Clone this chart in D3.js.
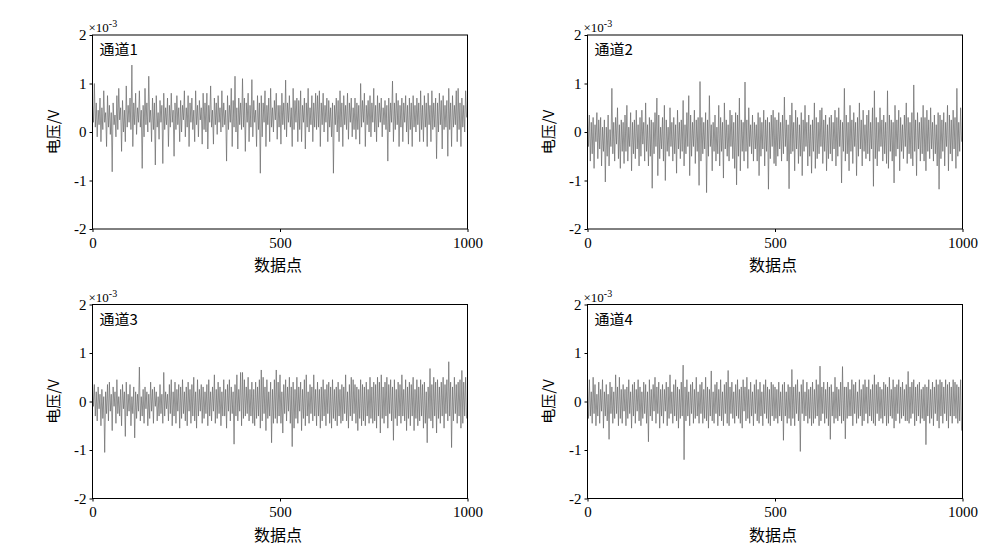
<!DOCTYPE html>
<html>
<head>
<meta charset="utf-8">
<script src="https://cdn.jsdelivr.net/npm/d3@7"></script>
<style>
  html, body { margin: 0; padding: 0; background: #fff; }
  svg { display: block; }
  text { font-family: "Liberation Serif", "Times New Roman", "DejaVu Serif", serif; fill: #000; }
  .cjk { font-family: "Noto Sans CJK SC", "Liberation Serif", sans-serif; }
</style>
</head>
<body>
<svg id="chart" width="1000" height="549"></svg>
<script>
// ---- data (values in units of 1e-3 V, read every 2.5 data points) ----
const channelNames = ["通道1", "通道2", "通道3", "通道4"];
const yTicks = [-2, -1, 0, 1, 2];
const xTicks = [0, 500, 1000];
const sampleStep = 2.5;

const channel1 = [
0.55,0.20,1.00,0.10,0.60,-0.10,0.45,0.15,0.70,-0.20,0.50,0.05,0.85,0.20,0.40,-0.30,0.75,0.10,0.55,-0.05,
0.40,-0.82,0.60,0.15,0.35,-0.10,0.75,0.05,0.90,0.25,0.50,-0.40,0.65,0.00,0.45,-0.20,0.95,0.10,0.55,0.20,
0.70,0.05,1.38,-0.30,0.60,0.15,0.80,-0.05,0.50,0.20,0.85,0.10,0.45,-0.75,0.55,-0.10,0.90,0.15,0.60,0.00,
1.15,0.20,0.45,-0.20,0.70,0.05,0.60,-0.68,0.75,0.10,0.40,-0.15,0.65,0.20,0.55,-0.65,0.80,0.05,0.50,0.15,
0.70,-0.30,0.55,0.10,0.80,0.20,0.45,-0.50,0.60,0.05,0.75,0.15,0.50,-0.20,0.65,0.00,0.55,0.25,0.85,-0.10,
0.50,0.10,0.75,-0.30,0.60,0.20,0.70,0.05,0.45,-0.20,0.85,0.15,0.55,-0.10,0.65,0.25,0.50,-0.25,0.80,0.05,
0.60,0.00,0.80,-0.35,0.55,0.20,0.95,0.10,0.45,-0.25,0.70,0.15,0.60,-0.05,0.75,0.20,0.50,0.00,0.85,0.10,
0.60,0.15,0.45,-0.60,0.75,0.05,0.55,0.20,0.90,-0.30,0.65,0.10,1.15,0.00,0.50,-0.35,0.70,0.15,0.60,0.05,
1.10,0.10,0.70,-0.40,0.60,0.20,0.80,-0.20,0.55,0.10,1.08,-0.10,0.65,0.20,0.45,-0.30,0.75,0.05,0.60,-0.85,
0.75,-0.10,0.60,0.20,0.85,-0.30,0.55,0.15,0.70,-0.20,0.90,0.10,0.50,0.00,0.65,0.25,0.80,-0.15,0.55,0.10,
0.55,-0.25,0.80,0.15,0.60,0.05,1.07,-0.10,0.60,0.20,0.75,0.10,0.50,-0.30,0.90,0.05,0.65,0.20,0.70,-0.20,
0.65,0.05,0.85,-0.20,0.55,0.20,0.70,-0.35,0.60,0.10,0.90,0.00,0.50,0.15,0.75,-0.20,0.60,0.10,0.80,0.05,
0.75,0.10,0.85,-0.30,0.60,0.15,0.80,0.00,0.55,0.20,0.70,-0.20,0.65,0.10,0.50,-0.10,0.60,-0.85,0.55,0.15,
0.70,0.00,0.65,-0.20,0.85,0.10,0.60,-0.30,0.75,0.15,0.55,0.05,0.80,-0.15,0.60,0.20,0.70,-0.10,0.50,0.05,
0.70,-0.15,0.60,0.05,0.55,-0.25,1.00,0.10,0.65,0.20,0.80,-0.30,0.55,0.15,0.65,0.00,0.75,-0.10,0.60,0.20,
0.90,0.00,0.55,-0.20,0.75,0.10,0.60,0.20,0.70,-0.10,0.50,0.15,0.65,0.05,0.55,-0.60,0.70,0.00,0.60,0.20,
1.05,-0.20,0.60,0.05,0.80,0.15,0.65,-0.30,0.55,0.10,0.70,-0.20,0.60,0.20,0.75,0.00,0.55,-0.25,0.70,0.05,
0.60,-0.30,0.75,0.10,0.55,0.00,0.70,0.15,0.60,-0.20,0.85,0.05,0.55,-0.20,0.75,0.10,0.60,-0.30,0.80,0.15,
0.55,-0.20,0.85,0.05,0.60,0.10,0.70,-0.55,0.60,0.00,0.80,0.15,0.65,-0.35,0.75,0.05,0.55,0.10,0.65,-0.50,
0.90,0.05,0.60,-0.30,0.75,0.10,0.55,0.15,0.85,-0.20,0.90,0.05,0.60,-0.30,0.70,0.10,0.55,0.00,0.85,0.30];

const channel2 = [
0.45,-0.30,0.35,-0.60,0.20,-0.45,0.30,-0.75,0.15,-0.20,0.40,-0.55,0.25,-0.35,0.30,-0.70,0.10,-0.40,0.25,-1.03,
0.10,-0.50,0.35,-0.70,0.05,-0.30,0.90,-0.45,0.20,-0.60,0.30,-0.25,0.50,-0.55,0.15,-0.75,0.25,-0.40,0.20,-0.65,
0.35,-0.40,0.55,-0.60,0.10,-0.30,0.40,-0.80,0.20,-0.45,0.25,-0.55,0.45,-0.35,0.15,-0.70,0.30,-0.50,0.45,-0.25,
0.20,-0.60,0.60,-0.40,0.15,-0.70,0.30,-0.50,0.25,-1.16,0.20,-0.45,0.40,-0.30,0.70,-0.90,0.35,-0.55,0.10,-0.35,
0.30,-0.60,0.55,-1.00,0.25,-0.40,0.10,-0.50,0.50,-0.30,0.20,-0.60,0.30,-0.45,0.15,-0.85,0.45,-0.35,0.20,-0.55,
0.25,-0.40,0.65,-0.70,0.15,-0.45,0.40,-0.30,0.75,-0.90,0.35,-0.50,0.20,-0.30,0.45,-0.65,0.25,-0.40,0.30,-1.10,
1.04,-0.60,0.30,-0.45,0.20,-0.35,0.40,-1.25,0.25,-0.50,0.75,-0.30,0.15,-0.80,0.20,-0.40,0.35,-0.60,0.10,-0.45,
0.55,-0.70,0.30,-0.40,0.20,-0.95,0.60,-0.35,0.25,-0.50,0.15,-0.60,0.45,-0.30,0.35,-0.55,0.20,-0.75,0.40,-1.09,
0.35,-0.50,0.70,-0.80,0.25,-0.40,0.20,-0.60,1.03,-0.40,0.25,-0.75,0.50,-0.30,0.15,-0.45,0.35,-0.60,0.20,-0.35,
0.15,-0.60,0.40,-0.90,0.30,-0.50,0.20,-0.35,0.45,-0.70,0.25,-0.40,0.30,-1.18,0.20,-0.55,0.35,-0.30,0.45,-0.65,
0.30,-0.70,0.25,-0.50,0.40,-0.35,0.20,-0.60,0.35,-0.45,0.72,-0.30,0.25,-0.60,0.15,-1.17,0.35,-0.45,0.60,-0.40,
0.20,-0.80,0.45,-0.35,0.30,-0.65,0.15,-0.50,0.40,-0.90,0.25,-0.40,0.55,-0.30,0.20,-0.70,0.35,-0.50,0.15,-0.85,
0.25,-0.40,0.60,-0.75,0.30,-0.55,0.20,-0.45,0.45,-0.30,0.50,-0.65,0.25,-0.40,0.35,-0.80,0.15,-0.55,0.30,-0.45,
0.35,-0.60,0.20,-0.35,0.45,-0.70,0.30,-0.50,0.50,-0.30,0.25,-1.05,0.20,-0.40,0.90,-0.60,0.35,-0.45,0.20,-0.80,
0.55,-0.40,0.25,-0.65,0.40,-0.30,0.20,-0.90,0.30,-0.50,0.60,-0.35,0.25,-0.70,0.45,-0.40,0.15,-0.55,0.35,-0.45,
0.45,-0.60,0.20,-0.35,0.50,-1.12,0.85,-0.55,0.30,-0.70,0.20,-0.40,0.50,-0.30,0.25,-0.60,0.35,-0.45,0.20,-0.65,
0.85,-0.75,0.35,-0.40,0.25,-0.60,0.20,-1.05,0.55,-0.50,0.25,-0.35,0.45,-0.80,0.30,-0.40,0.15,-0.55,0.35,-0.30,
0.60,-0.65,0.30,-0.45,0.20,-0.55,0.40,-0.70,0.97,-0.40,0.25,-0.90,0.40,-0.35,0.20,-0.60,0.30,-0.45,0.55,-0.60,
0.30,-0.80,0.45,-0.40,0.25,-0.55,0.50,-0.35,0.20,-0.60,0.35,-0.45,0.15,-0.70,0.40,-1.18,0.35,-0.55,0.25,-0.40,
0.40,-0.70,0.20,-0.30,0.55,-0.80,0.35,-0.45,0.25,-0.60,0.45,-0.35,0.30,-0.75,0.90,-0.50,0.20,-0.40,0.50,-0.20];

const channel3 = [
0.40,-0.10,0.35,-0.30,0.20,-0.40,0.30,-0.15,0.15,-0.50,0.25,-0.35,0.10,-1.05,0.20,-0.25,0.35,-0.40,0.40,-0.20,
0.15,-0.60,0.30,-0.10,0.20,-0.45,0.45,-0.25,0.10,-0.30,0.25,-0.50,0.35,-0.15,0.20,-0.72,0.40,-0.30,0.15,-0.20,
0.35,-0.50,0.10,-0.25,0.30,-0.75,0.20,-0.35,0.15,-0.20,0.71,-0.40,0.10,-0.30,0.25,-0.45,0.30,-0.15,0.20,-0.50,
0.15,-0.35,0.40,-0.20,0.25,-0.45,0.30,-0.10,0.20,-0.40,0.10,-0.30,0.35,-0.25,0.15,-0.45,0.60,-0.30,0.20,-0.15,
0.15,-0.40,0.35,-0.25,0.45,-0.50,0.20,-0.30,0.40,-0.45,0.25,-0.20,0.35,-0.55,0.30,-0.35,0.45,-0.25,0.20,-0.40,
0.30,-0.50,0.40,-0.20,0.25,-0.45,0.35,-0.30,0.50,-0.40,0.20,-0.55,0.45,-0.30,0.25,-0.20,0.35,-0.45,0.30,-0.35,
0.20,-0.25,0.35,-0.50,0.45,-0.30,0.20,-0.40,0.30,-0.20,0.55,-0.45,0.25,-0.35,0.40,-0.25,0.30,-0.50,0.20,-0.30,
0.45,-0.30,0.25,-0.55,0.35,-0.20,0.45,-0.40,0.30,-0.25,0.20,-0.88,0.35,-0.30,0.55,-0.40,0.25,-0.20,0.60,-0.50,
0.60,-0.35,0.45,-0.30,0.30,-0.25,0.50,-0.40,0.25,-0.30,0.40,-0.45,0.25,-0.50,0.40,-0.35,0.30,-0.30,0.45,-0.55,
0.65,-0.40,0.50,-0.25,0.30,-0.60,0.45,-0.35,0.20,-0.30,0.40,-0.85,0.25,-0.45,0.45,-0.35,0.65,-0.45,0.40,-0.30,
0.55,-0.45,0.20,-0.65,0.35,-0.25,0.45,-0.40,0.30,-0.20,0.50,-0.45,0.30,-0.93,0.40,-0.55,0.25,-0.35,0.50,-0.45,
0.30,-0.20,0.40,-0.60,0.25,-0.35,0.45,-0.50,0.55,-0.30,0.20,-0.45,0.35,-0.25,0.30,-0.40,0.55,-0.30,0.25,-0.50,
0.40,-0.30,0.25,-0.55,0.30,-0.40,0.45,-0.30,0.25,-0.50,0.35,-0.25,0.40,-0.45,0.30,-0.55,0.45,-0.35,0.25,-0.40,
0.30,-0.50,0.40,-0.30,0.25,-0.45,0.35,-0.40,0.30,-0.25,0.55,-0.40,0.20,-0.55,0.35,-0.30,0.50,-0.40,0.45,-0.25,
0.35,-0.45,0.30,-0.60,0.25,-0.35,0.45,-0.50,0.35,-0.40,0.30,-0.50,0.40,-0.30,0.25,-0.45,0.50,-0.35,0.30,-0.45,
0.40,-0.40,0.35,-0.55,0.50,-0.30,0.40,-0.65,0.55,-0.35,0.30,-0.45,0.40,-0.30,0.50,-0.55,0.35,-0.25,0.45,-0.40,
0.30,-0.80,0.45,-0.35,0.25,-0.50,0.40,-0.30,0.35,-0.45,0.55,-0.30,0.25,-0.40,0.45,-0.60,0.30,-0.35,0.40,-0.50,
0.35,-0.30,0.50,-0.60,0.25,-0.35,0.45,-0.50,0.30,-0.40,0.45,-0.30,0.35,-0.55,0.40,-0.45,0.20,-0.85,0.30,-0.35,
0.68,-0.40,0.35,-0.55,0.50,-0.30,0.40,-0.65,0.45,-0.35,0.30,-0.45,0.40,-0.30,0.50,-0.55,0.35,-0.25,0.45,-0.40,
0.82,-0.30,0.40,-0.95,0.30,-0.40,0.50,-0.25,0.35,-0.45,0.40,-0.30,0.45,-0.55,0.64,-0.45,0.40,-0.30,0.50,-0.35];

const channel4 = [
0.30,-0.35,0.45,-0.30,0.20,-0.45,0.50,-0.25,0.35,-0.50,0.15,-0.30,0.40,-0.45,0.25,-0.20,0.45,-0.55,0.20,-0.30,
0.35,-0.40,0.15,-0.78,0.40,-0.25,0.30,-0.45,0.20,-0.35,0.55,-0.25,0.30,-0.50,0.50,-0.35,0.25,-0.45,0.35,-0.20,
0.25,-0.50,0.30,-0.35,0.45,-0.25,0.20,-0.55,0.35,-0.30,0.40,-0.45,0.25,-0.20,0.45,-0.40,0.30,-0.50,0.20,-0.35,
0.40,-0.25,0.35,-0.45,0.20,-0.83,0.45,-0.30,0.25,-0.40,0.35,-0.20,0.50,-0.45,0.30,-0.25,0.40,-0.55,0.25,-0.30,
0.35,-0.45,0.25,-0.20,0.40,-0.50,0.30,-0.35,0.55,-0.25,0.20,-0.45,0.35,-0.30,0.45,-0.40,0.30,-0.55,0.25,-0.35,
0.40,-0.30,0.75,-1.20,0.30,-0.40,0.45,-0.30,0.20,-0.50,0.35,-0.25,0.40,-0.45,0.25,-0.35,0.50,-0.30,0.20,-0.45,
0.35,-0.25,0.40,-0.45,0.25,-0.35,0.50,-0.40,0.30,-0.55,0.25,-0.30,0.63,-0.40,0.20,-0.45,0.35,-0.25,0.40,-0.50,
0.25,-0.30,0.45,-0.40,0.20,-0.50,0.35,-0.25,0.40,-0.45,0.64,-0.50,0.30,-0.25,0.40,-0.35,0.20,-0.45,0.35,-0.30,
0.45,-0.35,0.25,-0.45,0.30,-0.55,0.45,-0.20,0.30,-0.40,0.50,-0.35,0.25,-0.45,0.40,-0.30,0.20,-0.50,0.35,-0.25,
0.45,-0.40,0.25,-0.45,0.40,-0.30,0.20,-0.50,0.35,-0.25,0.45,-0.35,0.30,-0.45,0.25,-0.50,0.40,-0.30,0.35,-0.40,
0.30,-0.35,0.25,-0.45,0.40,-0.30,0.20,-0.40,0.35,-0.80,0.40,-0.30,0.20,-0.45,0.35,-0.35,0.30,-0.50,0.66,-0.35,
0.30,-0.50,0.35,-0.25,0.45,-0.40,0.20,-1.03,0.35,-0.25,0.45,-0.40,0.20,-0.30,0.40,-0.45,0.25,-0.35,0.30,-0.50,
0.40,-0.45,0.25,-0.35,0.45,-0.30,0.35,-0.50,0.73,-0.40,0.30,-0.25,0.40,-0.45,0.25,-0.35,0.40,-0.50,0.30,-0.78,
0.35,-0.30,0.20,-0.45,0.50,-0.35,0.30,-0.40,0.25,-0.30,0.40,-0.45,0.72,-0.40,0.30,-0.77,0.30,-0.35,0.40,-0.30,
0.25,-0.30,0.45,-0.50,0.35,-0.25,0.40,-0.45,0.20,-0.35,0.45,-0.30,0.25,-0.50,0.35,-0.40,0.45,-0.25,0.30,-0.45,
0.45,-0.30,0.25,-0.40,0.35,-0.45,0.55,-0.50,0.35,-0.25,0.40,-0.40,0.30,-0.35,0.25,-0.45,0.40,-0.30,0.35,-0.50,
0.30,-0.45,0.50,-0.30,0.25,-0.35,0.45,-0.55,0.30,-0.40,0.35,-0.25,0.45,-0.45,0.30,-0.35,0.40,-0.30,0.25,-0.40,
0.35,-0.40,0.62,-0.45,0.30,-0.35,0.40,-0.25,0.45,-0.50,0.30,-0.40,0.35,-0.30,0.40,-0.45,0.25,-0.35,0.30,-0.40,
0.35,-0.89,0.30,-0.30,0.45,-0.45,0.25,-0.35,0.40,-0.50,0.30,-0.25,0.45,-0.40,0.35,-0.55,0.45,-0.30,0.40,-0.45,
0.30,-0.25,0.45,-0.40,0.35,-0.55,0.40,-0.30,0.30,-0.45,0.45,-0.30,0.40,-0.35,0.35,-0.45,0.30,-0.40,0.45,-0.60];

const seriesList = [channel1, channel2, channel3, channel4];

// ---- layout ----
const panelW = 375, panelH = 194;
const panelPos = [
  {x: 92.5, y: 35},
  {x: 587.5, y: 35},
  {x: 92.5, y: 304.5},
  {x: 587.5, y: 304.5}
];
const serifFont = '"Liberation Serif", "Times New Roman", "DejaVu Serif", serif';

const svg = d3.select("#chart");

seriesList.forEach((vals, p) => {
  const pos = panelPos[p];
  const g = svg.append("g").attr("transform", `translate(${pos.x},${pos.y})`);
  const x = d3.scaleLinear().domain([0, 1000]).range([0, panelW]);
  const y = d3.scaleLinear().domain([-2, 2]).range([panelH, 0]);

  const pts = vals.map((v, k) => [k * sampleStep, v]);
  const line = d3.line().x(d => x(d[0])).y(d => y(d[1]));

  g.append("path")
    .datum(pts)
    .attr("d", line)
    .attr("fill", "none")
    .attr("stroke", "#686868")
    .attr("stroke-width", 0.7)
    .attr("stroke-linejoin", "miter");

  // frame
  g.append("rect")
    .attr("x", 0).attr("y", 0)
    .attr("width", panelW).attr("height", panelH)
    .attr("fill", "none").attr("stroke", "#000").attr("stroke-width", 1);

  const yAxis = d3.axisLeft(y).tickValues(yTicks).tickSize(3).tickPadding(3)
    .tickFormat(d => String(d));
  const gy = g.append("g").call(yAxis).attr("font-family", null);
  gy.select(".domain").remove();
  gy.selectAll("text").style("font-size", "15px").style("font-family", serifFont);

  const xAxis = d3.axisBottom(x).tickValues(xTicks).tickSize(3).tickPadding(5)
    .tickFormat(d => String(d));
  const gx = g.append("g").attr("transform", `translate(0,${panelH})`).call(xAxis).attr("font-family", null);
  gx.select(".domain").remove();
  gx.selectAll("text").style("font-size", "15px").style("font-family", serifFont);

  // multiplier label
  const mult = g.append("text")
    .attr("x", -4).attr("y", -3)
    .style("font-family", serifFont)
    .style("font-size", "13px");
  mult.append("tspan").text("×10");
  mult.append("tspan").attr("dy", -5).style("font-size", "10px").text("-3");

  // channel label
  g.append("text")
    .attr("class", "cjk")
    .attr("x", 7).attr("y", 20)
    .style("font-size", "15px")
    .text(channelNames[p]);

  // axis titles
  g.append("text")
    .attr("class", "cjk")
    .attr("x", panelW / 2 - 2).attr("y", panelH + 42)
    .attr("text-anchor", "middle")
    .style("font-size", "16px")
    .text("数据点");

  g.append("text")
    .attr("class", "cjk")
    .attr("transform", `translate(-34,${panelH / 2}) rotate(-90)`)
    .attr("text-anchor", "middle")
    .style("font-size", "15px")
    .text("电压/V");
});
</script>
</body>
</html>
